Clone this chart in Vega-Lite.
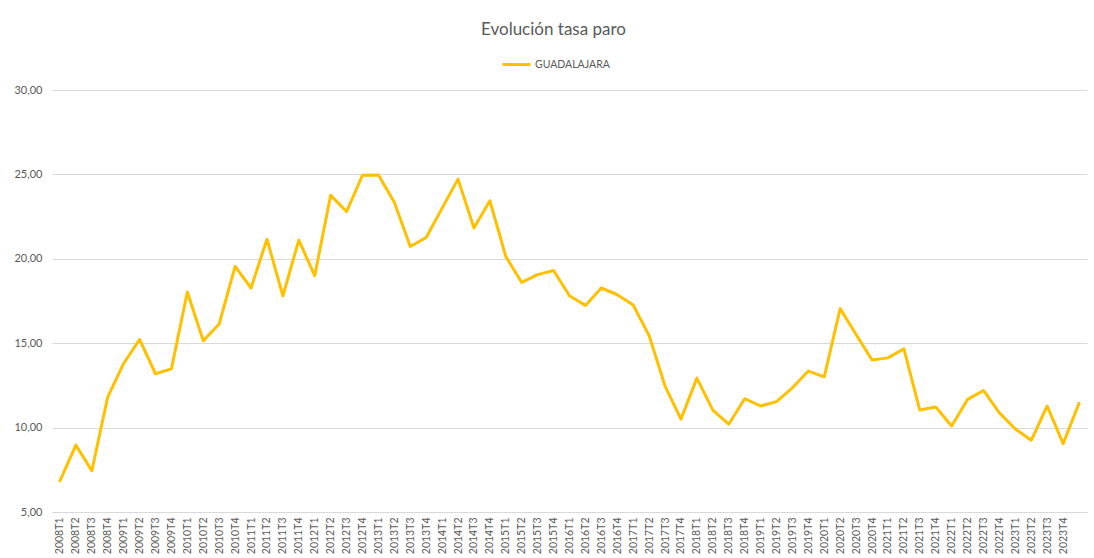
{
  "$schema": "https://vega.github.io/schema/vega-lite/v6.json",
  "width": 1035,
  "height": 422,
  "autosize": {"type": "none"},
  "padding": {"left": 52, "top": 90, "right": 7, "bottom": 46},
  "background": "white",
  "config": {"view": {"stroke": null}},
  "title": {"text": "Evolución tasa paro", "font": "Lato", "fontSize": 17, "fontWeight": "normal", "color": "#595959", "anchor": "middle", "dx": -16, "offset": 10},
  "data": {"values": [
    {"periodo": "2008T1", "tasa": 6.85, "serie": "GUADALAJARA"},
    {"periodo": "2008T2", "tasa": 8.96, "serie": "GUADALAJARA"},
    {"periodo": "2008T3", "tasa": 7.44, "serie": "GUADALAJARA"},
    {"periodo": "2008T4", "tasa": 11.81, "serie": "GUADALAJARA"},
    {"periodo": "2009T1", "tasa": 13.8, "serie": "GUADALAJARA"},
    {"periodo": "2009T2", "tasa": 15.22, "serie": "GUADALAJARA"},
    {"periodo": "2009T3", "tasa": 13.19, "serie": "GUADALAJARA"},
    {"periodo": "2009T4", "tasa": 13.48, "serie": "GUADALAJARA"},
    {"periodo": "2010T1", "tasa": 18.03, "serie": "GUADALAJARA"},
    {"periodo": "2010T2", "tasa": 15.14, "serie": "GUADALAJARA"},
    {"periodo": "2010T3", "tasa": 16.14, "serie": "GUADALAJARA"},
    {"periodo": "2010T4", "tasa": 19.55, "serie": "GUADALAJARA"},
    {"periodo": "2011T1", "tasa": 18.27, "serie": "GUADALAJARA"},
    {"periodo": "2011T2", "tasa": 21.16, "serie": "GUADALAJARA"},
    {"periodo": "2011T3", "tasa": 17.81, "serie": "GUADALAJARA"},
    {"periodo": "2011T4", "tasa": 21.1, "serie": "GUADALAJARA"},
    {"periodo": "2012T1", "tasa": 19.0, "serie": "GUADALAJARA"},
    {"periodo": "2012T2", "tasa": 23.76, "serie": "GUADALAJARA"},
    {"periodo": "2012T3", "tasa": 22.8, "serie": "GUADALAJARA"},
    {"periodo": "2012T4", "tasa": 24.95, "serie": "GUADALAJARA"},
    {"periodo": "2013T1", "tasa": 24.97, "serie": "GUADALAJARA"},
    {"periodo": "2013T2", "tasa": 23.35, "serie": "GUADALAJARA"},
    {"periodo": "2013T3", "tasa": 20.73, "serie": "GUADALAJARA"},
    {"periodo": "2013T4", "tasa": 21.26, "serie": "GUADALAJARA"},
    {"periodo": "2014T1", "tasa": 23.0, "serie": "GUADALAJARA"},
    {"periodo": "2014T2", "tasa": 24.72, "serie": "GUADALAJARA"},
    {"periodo": "2014T3", "tasa": 21.83, "serie": "GUADALAJARA"},
    {"periodo": "2014T4", "tasa": 23.44, "serie": "GUADALAJARA"},
    {"periodo": "2015T1", "tasa": 20.14, "serie": "GUADALAJARA"},
    {"periodo": "2015T2", "tasa": 18.6, "serie": "GUADALAJARA"},
    {"periodo": "2015T3", "tasa": 19.06, "serie": "GUADALAJARA"},
    {"periodo": "2015T4", "tasa": 19.31, "serie": "GUADALAJARA"},
    {"periodo": "2016T1", "tasa": 17.81, "serie": "GUADALAJARA"},
    {"periodo": "2016T2", "tasa": 17.24, "serie": "GUADALAJARA"},
    {"periodo": "2016T3", "tasa": 18.27, "serie": "GUADALAJARA"},
    {"periodo": "2016T4", "tasa": 17.87, "serie": "GUADALAJARA"},
    {"periodo": "2017T1", "tasa": 17.26, "serie": "GUADALAJARA"},
    {"periodo": "2017T2", "tasa": 15.45, "serie": "GUADALAJARA"},
    {"periodo": "2017T3", "tasa": 12.46, "serie": "GUADALAJARA"},
    {"periodo": "2017T4", "tasa": 10.5, "serie": "GUADALAJARA"},
    {"periodo": "2018T1", "tasa": 12.93, "serie": "GUADALAJARA"},
    {"periodo": "2018T2", "tasa": 11.04, "serie": "GUADALAJARA"},
    {"periodo": "2018T3", "tasa": 10.2, "serie": "GUADALAJARA"},
    {"periodo": "2018T4", "tasa": 11.71, "serie": "GUADALAJARA"},
    {"periodo": "2019T1", "tasa": 11.28, "serie": "GUADALAJARA"},
    {"periodo": "2019T2", "tasa": 11.54, "serie": "GUADALAJARA"},
    {"periodo": "2019T3", "tasa": 12.36, "serie": "GUADALAJARA"},
    {"periodo": "2019T4", "tasa": 13.35, "serie": "GUADALAJARA"},
    {"periodo": "2020T1", "tasa": 13.01, "serie": "GUADALAJARA"},
    {"periodo": "2020T2", "tasa": 17.05, "serie": "GUADALAJARA"},
    {"periodo": "2020T3", "tasa": 15.51, "serie": "GUADALAJARA"},
    {"periodo": "2020T4", "tasa": 14.0, "serie": "GUADALAJARA"},
    {"periodo": "2021T1", "tasa": 14.13, "serie": "GUADALAJARA"},
    {"periodo": "2021T2", "tasa": 14.67, "serie": "GUADALAJARA"},
    {"periodo": "2021T3", "tasa": 11.04, "serie": "GUADALAJARA"},
    {"periodo": "2021T4", "tasa": 11.22, "serie": "GUADALAJARA"},
    {"periodo": "2022T1", "tasa": 10.1, "serie": "GUADALAJARA"},
    {"periodo": "2022T2", "tasa": 11.67, "serie": "GUADALAJARA"},
    {"periodo": "2022T3", "tasa": 12.2, "serie": "GUADALAJARA"},
    {"periodo": "2022T4", "tasa": 10.87, "serie": "GUADALAJARA"},
    {"periodo": "2023T1", "tasa": 9.92, "serie": "GUADALAJARA"},
    {"periodo": "2023T2", "tasa": 9.25, "serie": "GUADALAJARA"},
    {"periodo": "2023T3", "tasa": 11.28, "serie": "GUADALAJARA"},
    {"periodo": "2023T4", "tasa": 9.05, "serie": "GUADALAJARA"},
    {"periodo": "2024T1", "tasa": 11.44, "serie": "GUADALAJARA"}
  ]},
  "mark": {"type": "line", "strokeWidth": 3, "strokeJoin": "round", "strokeCap": "round"},
  "encoding": {
    "x": {
      "field": "periodo", "type": "ordinal", "sort": null,
      "scale": {"type": "point", "padding": 0.5},
      "axis": {
        "title": null, "labelAngle": -90, "labelFont": "Lato", "labelFontSize": 10.5,
        "labelColor": "#595959", "ticks": false, "domainColor": "#d9d9d9", "domainWidth": 1,
        "labelPadding": 5, "grid": false,
        "labelExpr": "datum.value == '2024T1' ? '' : datum.value"
      }
    },
    "y": {
      "field": "tasa", "type": "quantitative",
      "scale": {"domain": [5, 30], "nice": false, "zero": false},
      "axis": {
        "title": null, "values": [5, 10, 15, 20, 25, 30],
        "labelExpr": "replace(format(datum.value, '.2f'), '.', ',')",
        "domain": false, "ticks": false, "gridColor": "#d9d9d9", "gridWidth": 1,
        "labelPadding": 10, "labelFont": "Lato", "labelFontSize": 11, "labelColor": "#595959"
      }
    },
    "color": {
      "field": "serie", "type": "nominal",
      "scale": {"range": ["#FFC000"]},
      "legend": {
        "title": null, "orient": "none", "legendX": 449, "legendY": -41,
        "symbolType": "stroke", "symbolSize": 784, "symbolStrokeWidth": 3,
        "labelFont": "Lato", "labelFontSize": 10.5, "labelColor": "#595959", "labelOffset": 3
      }
    }
  }
}
